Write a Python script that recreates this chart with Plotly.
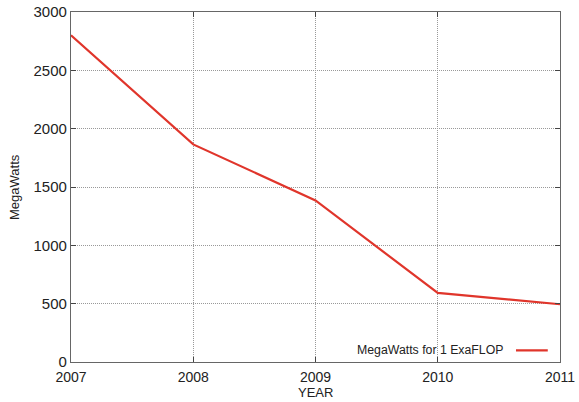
import plotly.graph_objects as go

years = [2007, 2008, 2009, 2010, 2011]
megawatts = [2800, 1865, 1385, 592, 495]
series_name = "MegaWatts for 1 ExaFLOP"
y_ticks = [0, 500, 1000, 1500, 2000, 2500, 3000]

family = "Liberation Sans, Arial, Helvetica, sans-serif"
font = dict(family=family, size=13, color="#222")
red = "#e0352b"

fig = go.Figure()
fig.add_trace(go.Scatter(x=years, y=megawatts, mode="lines", name=series_name,
                         line=dict(color=red, width=2.2), showlegend=False))

axis_common = dict(showline=True, linecolor="#666", linewidth=1.2, mirror="allticks",
                   ticks="inside", ticklen=5, tickcolor="#444",
                   showgrid=True, gridcolor="#999", griddash="1px,1px", gridwidth=1,
                   zeroline=False, automargin=False)

fig.update_layout(
    width=579, height=402,
    margin=dict(l=71, r=19, t=12, b=40),
    paper_bgcolor="white", plot_bgcolor="white",
    font=font,
    xaxis=dict(range=[2007, 2011], tickvals=years, ticktext=[str(y) for y in years],
               tickfont=dict(family=family, size=14, color="#222"), ticklabelstandoff=2,
               **axis_common),
    yaxis=dict(range=[0, 3000], tickvals=y_ticks,
               tickfont=dict(family=family, size=15, color="#222"),
               **axis_common),
)

# axis titles
fig.add_annotation(xref="paper", yref="paper", x=0, y=0.5, xanchor="center", yanchor="middle",
                   xshift=-57, textangle=-90, text="MegaWatts", showarrow=False,
                   font=dict(family=family, size=13, color="#222"))
fig.add_annotation(xref="paper", yref="paper", x=0.5, y=0, xanchor="center", yanchor="middle",
                   yshift=-30, text="YEAR", showarrow=False,
                   font=dict(family=family, size=13, color="#222"))

# legend replica (gnuplot style: text then line sample)
fig.add_annotation(xref="paper", yref="paper", x=0.888, y=0.035, xanchor="right", yanchor="middle",
                   text=series_name, showarrow=False, font=dict(family=family, size=12.3, color="#222"))
fig.add_shape(type="line", xref="paper", yref="paper", x0=0.910, x1=0.975, y0=0.033, y1=0.033,
              line=dict(color=red, width=2.2))

fig.write_html("out.html", config={"displayModeBar": False},
               post_script="document.body.style.margin='0';document.body.style.overflow='hidden';")
